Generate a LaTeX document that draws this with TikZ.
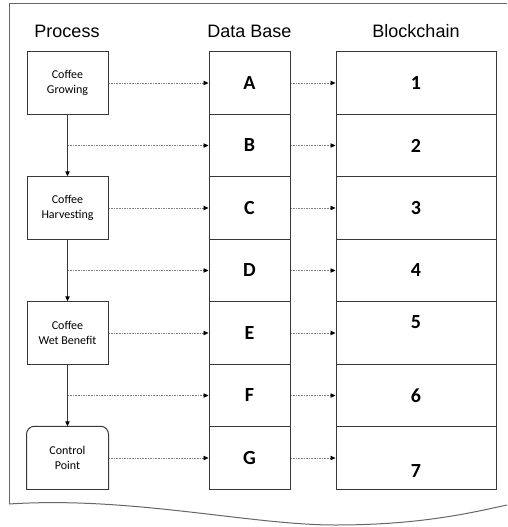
\documentclass[tikz,border=0pt]{standalone}
\usepackage{fontspec}
\setmainfont{Carlito}
\newfontfamily\headfont{Liberation Sans}
\usetikzlibrary{arrows.meta}

\tikzset{
  frame/.style={draw=black!60, line width=1pt},
  cellbox/.style={draw=black!78, line width=1pt, minimum width=81pt, minimum height=62.5pt, inner sep=0pt},
  procbox/.style={cellbox, font=\fontsize{12}{14.5}\selectfont, align=center},
  chainbox/.style={cellbox, minimum width=160pt},
  bigletter/.style={font=\fontsize{20}{24}\selectfont\bfseries},
  heading/.style={font=\headfont\fontsize{18}{22}\selectfont, anchor=base},
  tip/.style={-{Triangle[length=5pt,width=4.4pt,color=black]}},
  flowarrow/.style={tip, draw=black!78, line width=1pt},
  linkarrow/.style={tip, draw=black!50, line width=0.6pt, dash pattern=on 1.6pt off 1pt},
}

\begin{document}
\begin{tikzpicture}[x=1pt, y=-1pt]
  \useasboundingbox (0,0) rectangle (507,527);

  % page outline with a wavy bottom edge
  \draw[frame] (9,504) -- (9,4) -- (507,4);
  \draw[frame] (9,504) .. controls (130,496) and (250,525) .. (335,525)
                       .. controls (420,525) and (470,513) .. (507,505);

  % column headings
  \node[heading] (hproc)  at (67,37.5)  {Process};
  \node[heading] (hdb)    at (249.5,37.5) {Data Base};
  \node[heading] (hchain) at (416,37.5) {Blockchain};

  % process steps
  \node[procbox] (pg) at (67.5,83)  {Coffee\\Growing};
  \node[procbox] (ph) at (67.5,208) {Coffee\\Harvesting};
  \node[procbox] (pw) at (67.5,333) {Coffee\\Wet Benefit};
  \node[procbox, draw=none] (cp) at (67.5,458) {Control\\Point};
  \draw[draw=black!78, line width=1pt, rounded corners=8pt]
    (cp.south west) -- (cp.north west) -- (cp.north east) -- (cp.south east);
  \draw[draw=black!78, line width=1pt, line cap=rect] (cp.south east) -- (cp.south west);

  % database records
  \foreach \n/\y in {A/83, B/145.5, C/208, D/270.5, E/333, F/395.5, G/458}
    \node[cellbox, bigletter] (\n) at (249.5,\y) {\n};

  % blockchain blocks
  \foreach \k/\y in {1/83, 2/145.5, 3/208, 4/270.5, 6/395.5}
    \node[chainbox, bigletter] (b\k) at (416,\y) {\k};
  \node[chainbox] (b5) at (416,333) {};
  \node[chainbox] (b7) at (416,458) {};
  \node[bigletter] (n5) at (416,322) {5};
  \node[bigletter] (n7) at (416,471) {7};

  % process flow
  \draw[flowarrow] (pg.south) -- (ph.north);
  \draw[flowarrow] (ph.south) -- (pw.north);
  \draw[flowarrow] (pw.south) -- (cp.north);

  % process to database links
  \draw[linkarrow] (pg.east) -- (A.west);
  \draw[linkarrow] (pg.south |- B.west) -- (B.west);
  \draw[linkarrow] (ph.east) -- (C.west);
  \draw[linkarrow] (ph.south |- D.west) -- (D.west);
  \draw[linkarrow] (pw.east) -- (E.west);
  \draw[linkarrow] (pw.south |- F.west) -- (F.west);
  \draw[linkarrow] (cp.east) -- (G.west);

  % database to blockchain links
  \foreach \n/\k in {A/1, B/2, C/3, D/4, E/5, F/6, G/7}
    \draw[linkarrow] (\n.east) -- (b\k.west);
\end{tikzpicture}
\end{document}
